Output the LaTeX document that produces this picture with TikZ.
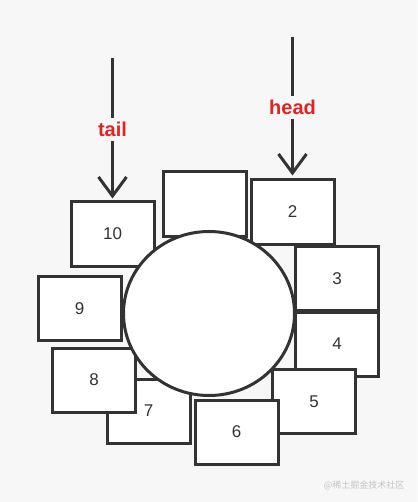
\documentclass[tikz,border=0pt]{standalone}
\usepackage{fontspec}
\setsansfont{Liberation Sans}
\newfontfamily\cjk{Noto Sans CJK SC}
\usetikzlibrary{arrows.meta,shapes.geometric}
\definecolor{ink}{HTML}{333333}
\definecolor{canvas}{HTML}{F7F7F7}
\definecolor{ptr}{HTML}{E02424}
\definecolor{mark}{HTML}{C4C4C4}
\tikzset{
  slot/.style={draw=ink, fill=white, line width=3pt, minimum width=83pt, minimum height=64pt,
    inner sep=0pt, font=\sffamily\fontsize{17}{17}\selectfont, text=ink},
  ring/.style={ellipse, draw=ink, fill=white, line width=3pt, minimum width=171pt, minimum height=164pt, inner sep=0pt},
  ptrarr/.style={-{Straight Barb[length=19pt,width=28pt]}, line width=3pt, draw=ink},
  ptrlab/.style={fill=canvas, inner sep=4pt, text=ptr, font=\sffamily\bfseries\fontsize{20}{20}\selectfont},
}

\begin{document}
\begin{tikzpicture}[x=1pt,y=-1pt]
        \fill[canvas] (0,0) rectangle (417,502);
        \useasboundingbox (0,0) rectangle (417,502);
        % buffer slots
        \node[slot] (s1) at (204.5,204) {};
        \node[slot] (s2) at (292.5,212) {2};
        \node[slot] (s3) at (337,278.5) {3};
        \node[slot] (s4) at (337,344) {4};
        \node[slot] (s5) at (314,401.5) {5};
        \node[slot] (s6) at (236.5,432) {6};
        \node[slot] (s7) at (148.5,411) {7};
        \node[slot] (s8) at (94,380) {8};
        \node[slot] (s9) at (79.5,308.5) {9};
        \node[slot] (s10) at (112.5,234) {10};
        \node[ring] (hub) at (209,313.5) {};
        % pointers
        \coordinate (tailtop) at (112.5,58);
        \coordinate (headtop) at (292.5,37);
        \draw[ptrarr, shorten >=2pt] (tailtop) -- node[ptrlab] {tail} (s10.north);
        \draw[ptrarr, shorten >=3pt] (headtop) -- node[ptrlab] {head} (s2.north);
        \node[text=mark, font=\cjk\fontsize{9}{9}\selectfont] (wm) at (364,485) {@稀土掘金技术社区};
      \end{tikzpicture}
\end{document}
